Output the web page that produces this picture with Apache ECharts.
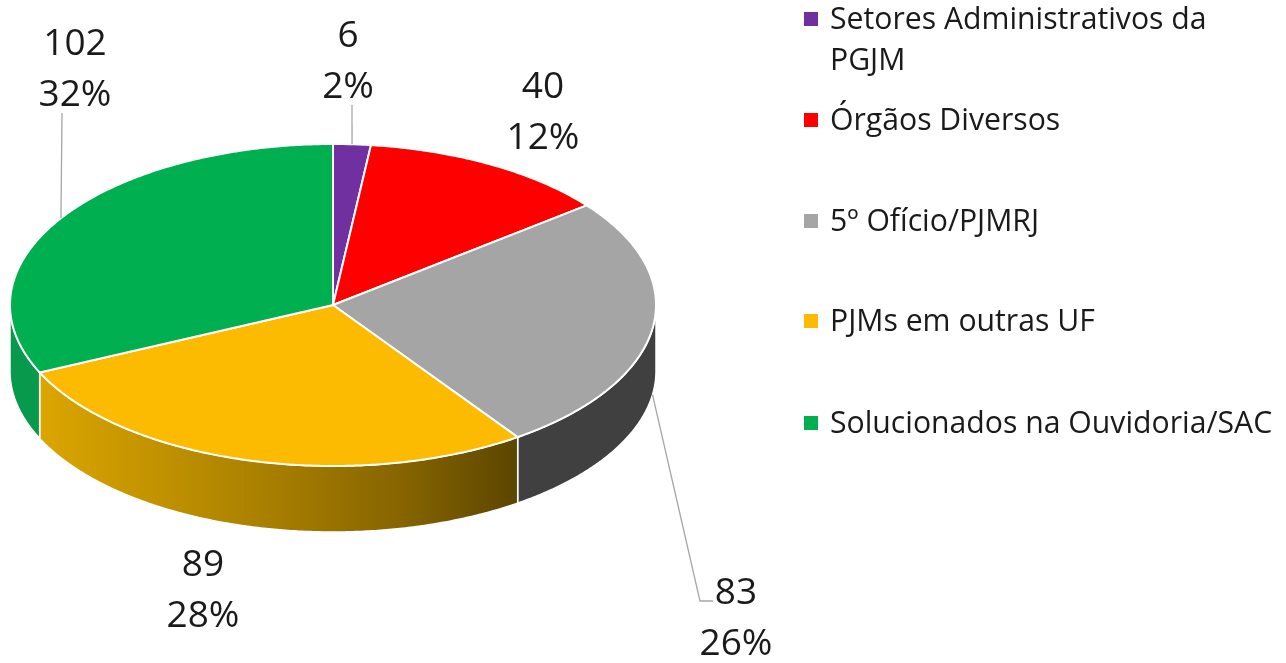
<!DOCTYPE html>
<html>
<head>
<meta charset="utf-8">
<title>Pie</title>
<style>
  html, body { margin: 0; padding: 0; background: #fff; }
  #chart { width: 1286px; height: 663px; }
</style>
<script src="https://cdn.jsdelivr.net/npm/echarts@6/dist/echarts.min.js"></script>
</head>
<body>
<div id="chart"></div>
<script>
var categories = ['Setores Administrativos da PGJM', 'Órgãos Diversos', '5º Ofício/PJMRJ', 'PJMs em outras UF', 'Solucionados na Ouvidoria/SAC'];
var values = [6, 40, 83, 89, 102];
var percents = ['2%', '12%', '26%', '28%', '32%'];

// look of the pie
var colors = ['#7030a0', '#ff0000', '#a5a5a5', '#fcbb00', '#00b050'];
var wallColors = [null, null, '#404040', null, '#079a4c'];
var cx = 333, cy = 305, rx = 323, ry = 161, depth = 66;
var labelFont = '"Open Sans", sans-serif';

// label centre, and leader line bend points (empty = no leader)
var labelPos = [[348, 62], [543, 113], [736, 619], [203, 591], [75, 70]];
var leaderEnd = [[[352, 105]], [], [[700, 601], [713, 601]], [], [[62, 113]]];
var legendTop = [18, 119, 220, 320, 422];

var total = values.reduce(function (a, b) { return a + b }, 0);

function angleAt(i) {
  var sum = 0;
  for (var k = 0; k < i; k++) sum += values[k];
  return sum / total * 360;
}

// angle is clockwise from 12 o'clock
function pointAt(deg, dy) {
  var r = deg * Math.PI / 180;
  return [cx + rx * Math.sin(r), cy - ry * Math.cos(r) + (dy || 0)];
}

function arcPoints(from, to, dy) {
  var pts = [];
  var steps = Math.ceil(Math.abs(to - from) * 2);
  for (var i = 0; i <= steps; i++) {
    pts.push(pointAt(from + (to - from) * i / steps, dy));
  }
  return pts;
}

function wallFill(i) {
  if (i === 3) {
    return new echarts.graphic.LinearGradient(0, 0, 1, 0, [
      {offset: 0, color: '#dca600'},
      {offset: 0.5, color: '#a67d00'},
      {offset: 0.75, color: '#876500'},
      {offset: 1, color: '#5c4500'}
    ]);
  }
  return wallColors[i];
}

function renderSlice(params, api) {
  var i = params.seriesIndex;
  var start = angleAt(i);
  var end = start + api.value(0) / total * 360;
  var children = [];

  // side wall, only the front half is seen
  var from = Math.max(start, 90), to = Math.min(end, 270);
  if (to > from) {
    children.push({
      type: 'polygon',
      z2: 1,
      shape: {points: arcPoints(from, to, 0).concat(arcPoints(to, from, depth))},
      style: {fill: wallFill(i), stroke: '#fff', lineWidth: 1.5}
    });
  }

  // top face
  children.push({
    type: 'polygon',
    z2: 2,
    shape: {points: [[cx, cy]].concat(arcPoints(start, end, 0))},
    style: {fill: colors[i], stroke: '#fff', lineWidth: 2}
  });

  // leader line starts at the middle of the slice
  if (leaderEnd[i].length) {
    var mid = (start + end) / 2;
    var onWall = mid > 90 && mid < 270;
    children.push({
      type: 'polyline',
      z2: 3,
      shape: {points: [pointAt(mid, onWall ? depth : 0)].concat(leaderEnd[i])},
      style: {fill: null, stroke: '#a6a6a6', lineWidth: 1.3}
    });
  }

  children.push({
    type: 'text',
    z2: 4,
    x: labelPos[i][0],
    y: labelPos[i][1],
    style: {
      text: api.value(0) + '\n' + percents[i],
      font: '37px ' + labelFont,
      fill: '#1a1a1a',
      align: 'center',
      verticalAlign: 'middle',
      lineHeight: 51
    }
  });
  return {type: 'group', children: children};
}

var myChart = echarts.init(document.getElementById('chart'));

myChart.setOption({
  animation: false,
  backgroundColor: '#fff',
  legend: categories.map(function (name, i) {
    return {
      data: [name],
      left: 804,
      top: legendTop[i] - 15,
      padding: 0,
      itemWidth: 14,
      itemHeight: 14,
      itemGap: 0,
      icon: 'rect',
      selectedMode: false,
      textStyle: {
        padding: [0, 0, 0, 7],
        rich: {
          t: {
            fontFamily: 'Open Sans',
            fontSize: 30.2,
            color: '#1a1a1a',
            lineHeight: 40,
            padding: [2, 0, 0, 0]
          }
        }
      },
      // the long name goes on two lines, the second one is drawn below
      formatter: function (n) {
        return '{t|' + n.replace(' PGJM', '') + '}';
      }
    };
  }),
  graphic: [{
    type: 'text',
    left: 830,
    top: 46,
    style: {text: 'PGJM', font: '30.2px "Open Sans"', fill: '#1a1a1a'}
  }],
  series: categories.map(function (name, i) {
    return {
      name: name,
      type: 'custom',
      coordinateSystem: 'none',
      itemStyle: {color: colors[i]},
      silent: true,
      renderItem: renderSlice,
      data: [[values[i]]]
    };
  })
});
</script>
</body>
</html>
